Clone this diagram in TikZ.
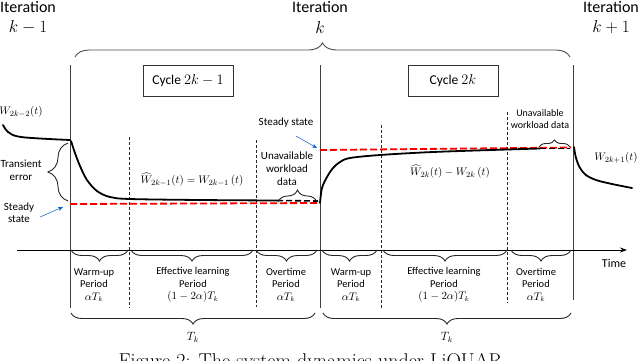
\documentclass[tikz,border=0pt]{standalone}
\usepackage{fontspec}
\newfontfamily\carl{Carlito}
\usetikzlibrary{decorations.pathreplacing,arrows.meta}
\begin{document}
\begin{tikzpicture}[x=1pt,y=-1pt,
  big/.style={font=\carl\fontsize{16}{20.5}\selectfont, align=center, inner sep=0pt},
  midt/.style={font=\carl\fontsize{11}{13.5}\selectfont, align=center, inner sep=0pt},
  smallt/.style={font=\carl\fontsize{10.5}{12.5}\selectfont, align=center, inner sep=0pt},
  mathl/.style={font=\fontsize{11}{13}\selectfont, inner sep=0pt},
  cyclebox/.style={draw=black!80, line width=0.9pt, minimum width=90pt, minimum height=31pt, font=\carl\fontsize{13.5}{15}\selectfont, inner sep=0pt},
  vline/.style={draw=black!75, line width=0.9pt},
  dline/.style={draw=black!85, line width=0.8pt, dash pattern=on 3pt off 2pt},
  curve/.style={draw=black, line width=1.8pt, line cap=round},
  curvedash/.style={draw=black, line width=1.6pt, dash pattern=on 6pt off 3pt},
  reddash/.style={draw=red!95!black, line width=1.8pt, dash pattern=on 7pt off 3pt},
  brc/.style={decorate, decoration={brace, amplitude=#1}, draw=black!85, line width=0.9pt},
  blarrow/.style={-{Stealth[length=5pt,width=4pt]}, draw=blue!55!cyan!80!black, line width=0.5pt}]
\useasboundingbox (0,0) rectangle (640,360);
\clip (0,0) rectangle (640,360);

% iteration labels
\node[big] (itl) at (28,17.5) {Iteration\\$k-1$};
\node[big] (itm) at (320,17.5) {Iteration\\$k$};
\node[big] (itr) at (611,17.5) {Iteration\\$k+1$};

% top brace
\draw[brc=14, draw=black!70] (75,57) -- (570,57);

% cycle boxes
\node[cyclebox] (c1) at (188,80.5) {Cycle $2k-1$};
\node[cyclebox] (c2) at (453,80.5) {Cycle $2k$};

% vertical boundary lines
\draw[vline] (70,65) -- (70,308);
\draw[vline] (320,65) -- (320,308);
\draw[vline] (573,65) -- (573,300);

% dashed period separators
\draw[dline] (129,137) -- (129,308);
\draw[dline] (256,140) -- (256,307);
\draw[dline] (381,125) -- (381,308);
\draw[dline] (507,112) -- (507,303);

% red steady-state lines
\draw[reddash] (70,204) -- (320,203);
\draw[reddash] (320,150) -- (571,147.5);

% curves
\draw[curve] plot[smooth, tension=0.6] coordinates {(3,125) (8,132) (18,136.5) (40,138.5) (70,140)};
\draw[curve] plot[smooth, tension=0.55] coordinates {(71,141) (75,153) (80,166) (87,180) (97,191) (110,197) (130,199) (200,200) (277,200.5)};
\draw[curvedash] (277,200.5) -- (318,201);
\draw[curve] plot[smooth, tension=0.55] coordinates {(320,203) (322,188) (327,177) (333,168) (340,162) (350,158) (380,155) (433,152) (507,149.5) (540,148.5)};
\draw[curvedash] (540,148.5) -- (570,148.5);
\draw[curve] plot[smooth, tension=0.55] coordinates {(574,147) (576,158) (580,168) (586,175) (596,180) (612,184) (632,188)};

% curve labels
\node[mathl] (w0) at (21,112) {$W_{2k-2}(t)$};
\node[mathl] (w1) at (192,180) {$\widehat{W}_{2k-1}(t) = W_{2k-1}\,(t)$};
\node[mathl] (w2) at (450,172) {$\widehat{W}_{2k}(t) - W_{2k}\,(t)$};
\node[mathl] (w3) at (616,158) {$W_{2k+1}(t)$};

% transient error
\draw[brc=20] (68,201) -- (68,143);
\node[midt] (te) at (21,170) {Transient\\error};

% steady state labels
\node[midt, font=\carl\fontsize{11}{12}\selectfont] (ssl) at (19,213) {Steady\\state};
\coordinate (ssla) at (40,217);
\coordinate (sslb) at (63,207);
\draw[blarrow] (ssla) -- (sslb);
\node[midt] (ssm) at (286,123) {Steady state};
\coordinate (ssma) at (296,136);
\coordinate (ssmb) at (317,148);
\draw[blarrow] (ssma) -- (ssmb);

% unavailable workload data
\draw[brc=12] (278,202) -- (317,202);
\node[midt, font=\carl\fontsize{11}{13}\selectfont] (u1) at (287,169) {Unavailable\\workload\\data};
\draw[brc=7] (539,147) -- (570,147);
\node[smallt, font=\carl\fontsize{10}{12}\selectfont] (u2) at (540,119) {Unavailable\\workload data};

% time axis
\draw[-{Stealth[length=7pt,width=5pt]}, line width=1pt] (17,250) -- (627,250);
\node[midt, font=\carl\fontsize{12}{13}\selectfont] (time) at (614,263) {Time};

% period braces
\draw[brc=11] (128,250) -- (71,250);
\draw[brc=11] (253,250) -- (131,250);
\draw[brc=11] (317,250) -- (256,250);
\draw[brc=11] (377,250) -- (322,250);
\draw[brc=11] (507,250) -- (383,250);
\draw[brc=11] (571,250) -- (511,250);

\node[smallt] (p1) at (94,285) {Warm-up\\Period\\$\alpha T_k$};
\node[smallt] (p2) at (193,285) {Effective learning\\Period\\$(1-2\alpha)T_k$};
\node[smallt] (p3) at (286,285) {Overtime\\Period\\$\alpha T_k$};
\node[smallt] (p4) at (351,285) {Warm-up\\Period\\$\alpha T_k$};
\node[smallt] (p5) at (444,285) {Effective learning\\Period\\$(1-2\alpha)T_k$};
\node[smallt] (p6) at (536,285) {Overtime\\Period\\$\alpha T_k$};

% T_k braces
\draw[brc=11] (315,313) -- (71,313);
\draw[brc=11] (571,313) -- (323,313);
\node[mathl, font=\fontsize{12}{14}\selectfont] (tk1) at (193,337) {$T_k$};
\node[mathl, font=\fontsize{12}{14}\selectfont] (tk2) at (447,337) {$T_k$};

% caption (cut off at the bottom)
\node[anchor=base, inner sep=0pt, font=\fontsize{20}{22}\selectfont] (cap) at (313,367) {Figure 2: The system dynamics under LiQUAR.};
\end{tikzpicture}
\end{document}
